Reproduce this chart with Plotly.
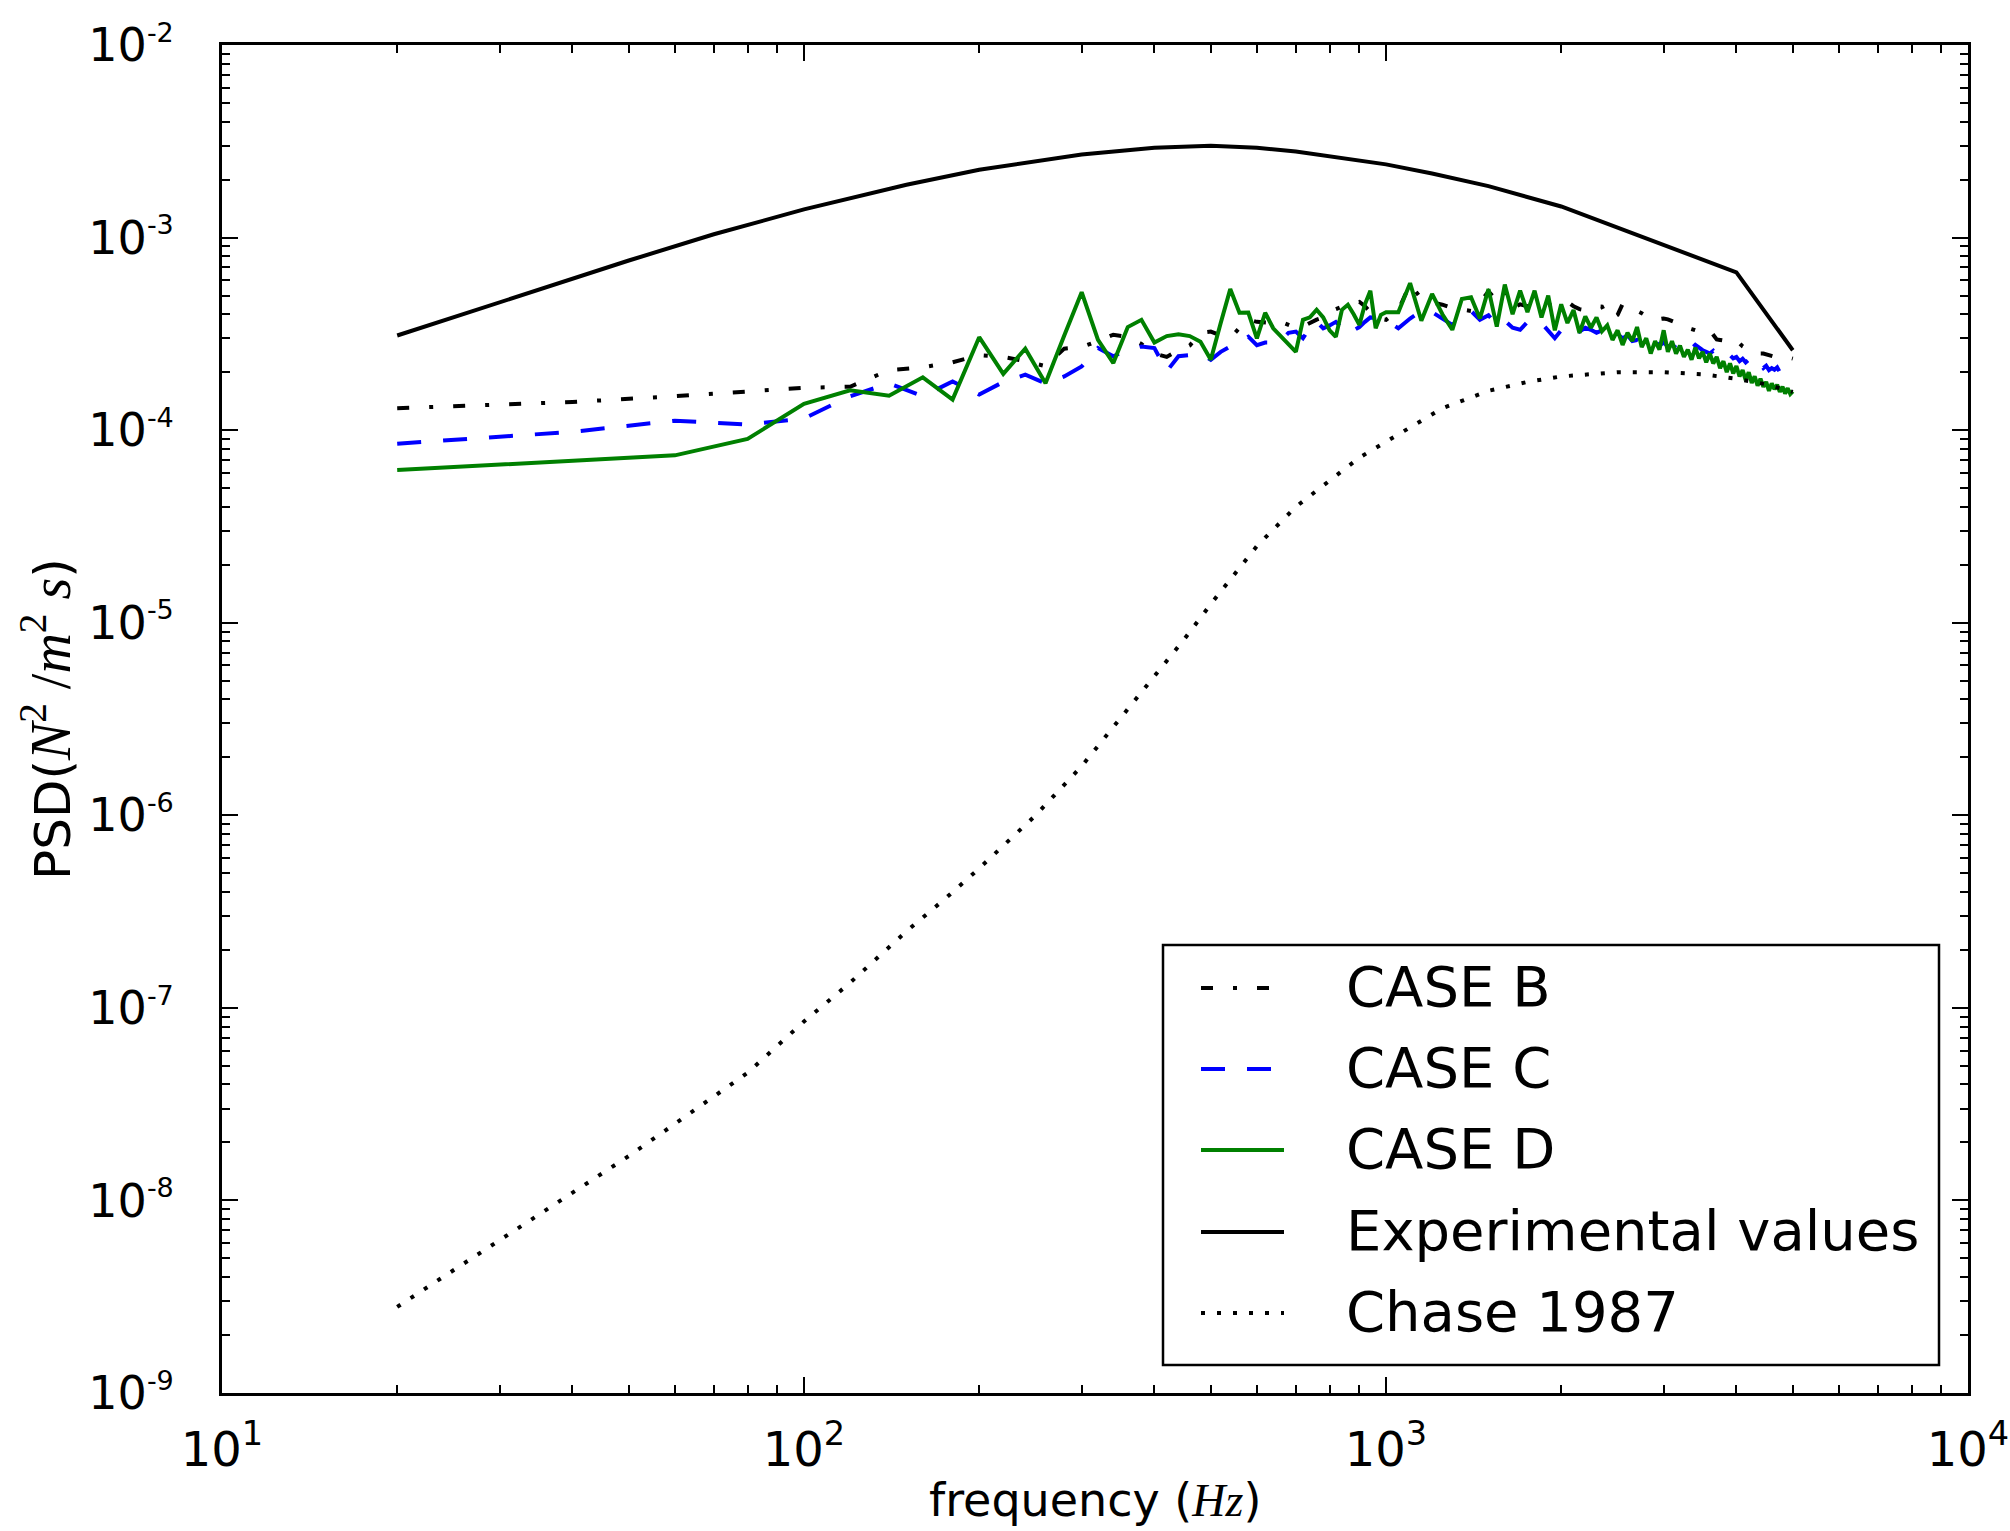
import plotly.graph_objects as go

# ---------------- data ----------------
# CFD spectra: 20 Hz spacing up to 1 kHz, then 50 Hz spacing up to 5 kHz
FREQ_CFD = list(range(20, 1001, 20)) + list(range(1050, 5001, 50))

# values in units of 1e-6 N^2/m^2 s
CASE_B_uPSD = [
    130, 140, 150, 158, 166, 168, 205, 212, 225, 245,
    240, 228, 215, 265, 270, 290, 313, 305, 280, 250,
    240, 260, 275, 320, 325, 310, 300, 340, 375, 365,
    362, 360, 365, 350, 340, 345, 360, 375, 385, 400,
    425, 440, 450, 458, 464, 440, 410, 390, 378, 374,
    420, 575, 480, 460, 448, 430, 425, 416, 460, 525,
    470, 530, 430, 450, 440, 440, 430, 445, 452, 455,
    464, 440, 425, 420, 430, 440, 438, 385, 380, 397,
    452, 430, 420, 416, 405, 390, 380, 374, 378, 380,
    376, 370, 365, 355, 345, 338, 335, 330, 326, 328,
    332, 330, 310, 296, 294, 292, 295, 294, 290, 294,
    280, 272, 267, 262, 265, 260, 255, 250, 250, 247,
    246, 244, 240, 238, 237, 238, 236, 237, 237, 235,
]

CASE_C_uPSD = [
    85, 98, 112, 107, 115, 150, 175, 150, 179, 153,
    178, 194, 175, 190, 214, 267, 242, 262, 272, 267,
    202, 242, 245, 251, 232, 255, 272, 290, 306, 276,
    285, 285, 294, 320, 325, 300, 340, 365, 338, 350,
    365, 340, 313, 330, 343, 365, 385, 382, 380, 372,
    338, 380, 416, 410, 380, 352, 385, 416, 374, 395,
    352, 370, 340, 332, 365, 350, 360, 330, 300, 330,
    345, 343, 325, 340, 332, 320, 330, 326, 305, 315,
    300, 310, 290, 294, 285, 292, 280, 288, 275, 285,
    272, 277, 268, 280, 270, 276, 265, 277, 268, 260,
    255, 250, 258, 245, 250, 243, 238, 245, 236, 240,
    228, 235, 225, 232, 224, 228, 215, 220, 210, 216,
    205, 210, 206, 212, 200, 205, 195, 200, 194, 192,
]

CASE_D_uPSD = [
    62, 69, 74, 90, 137, 161, 151, 188, 144, 304,
    196, 265, 175, 310, 520, 294, 223, 343, 374, 285,
    308, 315, 308, 288, 232, 360, 540, 407, 408, 300,
    407, 338, 305, 277, 255, 374, 385, 422, 385, 330,
    305, 422, 448, 400, 352, 450, 530, 338, 397, 410,
    410, 580, 370, 510, 400, 332, 480, 490, 380, 540,
    345, 570, 400, 530, 410, 530, 385, 500, 330, 450,
    360, 420, 320, 390, 340, 385, 326, 350, 294, 330,
    277, 320, 290, 343, 270, 300, 250, 290, 262, 330,
    255, 290, 250, 275, 240, 262, 232, 268, 236, 255,
    225, 250, 222, 240, 210, 228, 200, 222, 197, 215,
    190, 205, 182, 200, 176, 190, 170, 185, 168, 178,
    160, 175, 163, 172, 158, 168, 155, 165, 154, 159,
]

EXP_FREQ = [20, 30, 40, 50, 70, 100, 150, 200, 300, 400, 500, 600, 700,
            800, 1000, 1200, 1500, 2000, 3000, 4000, 5000]
EXP_uPSD = [310, 460, 610, 760, 1040, 1400, 1880, 2250, 2700, 2930, 3000,
            2930, 2800, 2650, 2400, 2150, 1850, 1450, 920, 660, 260]

CHASE_FREQ = [20, 30, 40, 50, 60, 80, 100, 120, 150, 175, 200, 250, 300,
              350, 400, 450, 500, 600, 700, 800, 900, 1000, 1250, 1500,
              1750, 2000, 2500, 3000, 3500, 4000, 4500, 5000]
CHASE_PSD = [2.8e-9, 6.2e-9, 1.1e-8, 1.7e-8, 2.5e-8, 4.6e-8, 8.5e-8, 1.35e-7,
             2.5e-7, 3.7e-7, 5.3e-7, 1.0e-6, 1.8e-6, 3.2e-6, 5.2e-6, 8.2e-6,
             1.25e-5, 2.5e-5, 4.0e-5, 5.5e-5, 7.2e-5, 8.7e-5, 1.3e-4, 1.6e-4,
             1.78e-4, 1.9e-4, 2.0e-4, 2.0e-4, 1.95e-4, 1.85e-4, 1.73e-4, 1.58e-4]

LEGEND_LABELS = ["CASE B", "CASE C", "CASE D", "Experimental values", "Chase 1987"]

X_TICKS = [10, 100, 1000, 10000]
X_TICKTEXT = ["10<sup>1</sup>", "10<sup>2</sup>", "10<sup>3</sup>", "10<sup>4</sup>"]
Y_TICKS = [1e-9, 1e-8, 1e-7, 1e-6, 1e-5, 1e-4, 1e-3, 1e-2]
Y_EXPONENTS = ["-9", "-8", "-7", "-6", "-5", "-4", "-3", "-2"]

# ---------------- styling ----------------
FONT = "DejaVu Sans"
MATH = "Liberation Serif"
W, H = 2010, 1531
ML, MR, MT, MB = 222, 42, 45, 138
PW, PH = W - ML - MR, H - MT - MB

STYLES = [
    dict(color="black", width=4, dash="12px,20px,4px,20px"),
    dict(color="#0000ff", width=4, dash="24px,22px"),
    dict(color="#008000", width=4, dash="solid"),
    dict(color="black", width=4, dash="solid"),
    dict(color="black", width=4, dash="4px,12px"),
]


def sc(vals, k):
    return [v * k for v in vals]


series = [
    (FREQ_CFD, sc(CASE_B_uPSD, 1e-6)),
    (FREQ_CFD, sc(CASE_C_uPSD, 1e-6)),
    (FREQ_CFD, sc(CASE_D_uPSD, 1e-6)),
    (EXP_FREQ, sc(EXP_uPSD, 1e-6)),
    (CHASE_FREQ, CHASE_PSD),
]

fig = go.Figure()
for (fx, fy), name, st in zip(series, LEGEND_LABELS, STYLES):
    fig.add_trace(go.Scatter(x=fx, y=fy, mode="lines", name=name,
                             line=st, showlegend=False))

minor_x = [m * 10 ** e for e in range(1, 4) for m in range(2, 10)]
minor_y = [m * 10.0 ** e for e in range(-9, -2) for m in range(2, 10)]

y_ticktext = [f"10<sup><span style='font-size:27px'>{e}</span></sup>" for e in Y_EXPONENTS]

axis_common = dict(
    type="log", showgrid=False, zeroline=False,
    showline=True, linecolor="black", linewidth=3, mirror="allticks",
    ticks="inside", ticklen=16, tickwidth=2, tickcolor="black",
    tickmode="array",
)

fig.update_xaxes(**axis_common, range=[1, 4], tickvals=X_TICKS, ticktext=X_TICKTEXT,
                 ticklabelstandoff=12,
                 tickfont=dict(family=FONT, size=48, color="black"),
                 minor=dict(tickmode="array", tickvals=minor_x, ticks="inside",
                            ticklen=8, tickwidth=2, tickcolor="black", showgrid=False))
fig.update_yaxes(**axis_common, range=[-9, -2], tickvals=Y_TICKS, ticktext=y_ticktext,
                 ticklabelstandoff=36,
                 tickfont=dict(family=FONT, size=46, color="black"),
                 minor=dict(tickmode="array", tickvals=minor_y, ticks="inside",
                            ticklen=8, tickwidth=2, tickcolor="black", showgrid=False))


def px_x(px):
    return (px - ML) / PW


def px_y(py):
    return (H - MB - py) / PH


shapes = []
annotations = []

# legend box
shapes.append(dict(type="rect", xref="paper", yref="paper",
                   x0=px_x(1163), x1=px_x(1939), y0=px_y(1365), y1=px_y(945),
                   line=dict(color="black", width=2.5), fillcolor="white", layer="above"))
ROW_Y = [988, 1069, 1150, 1232, 1313]
for ry, label, st in zip(ROW_Y, LEGEND_LABELS, STYLES):
    shapes.append(dict(type="line", xref="paper", yref="paper",
                       x0=px_x(1201), x1=px_x(1284), y0=px_y(ry), y1=px_y(ry),
                       line=dict(color=st["color"], width=st["width"], dash=st["dash"]),
                       layer="above"))
    annotations.append(dict(text=label, xref="paper", yref="paper",
                            x=px_x(1344), y=px_y(ry - 2), xanchor="left", yanchor="middle",
                            showarrow=False, font=dict(family=FONT, size=56, color="black")))

# axis titles
annotations.append(dict(
    text=f"frequency (<span style='font-family:{MATH}'><i>Hz</i></span>)",
    xref="paper", yref="paper", x=0.5, y=px_y(1500), xanchor="center", yanchor="middle",
    showarrow=False, font=dict(family=FONT, size=46, color="black")))
annotations.append(dict(
    text=(f"PSD(<span style='font-family:{MATH};font-size:56px'><i>N</i><sup>2</sup> /<i>m</i>"
          f"<sup>2</sup> <i>s</i></span>)"),
    xref="paper", yref="paper", x=px_x(46), y=0.5, xanchor="center", yanchor="middle",
    textangle=-90, showarrow=False, font=dict(family=FONT, size=50, color="black")))

fig.update_layout(
    width=W, height=H,
    margin=dict(l=ML, r=MR, t=MT, b=MB, autoexpand=False),
    paper_bgcolor="white", plot_bgcolor="white",
    showlegend=False,
    shapes=shapes, annotations=annotations,
    font=dict(family=FONT, color="black"),
)

fig.write_html("out.html")
